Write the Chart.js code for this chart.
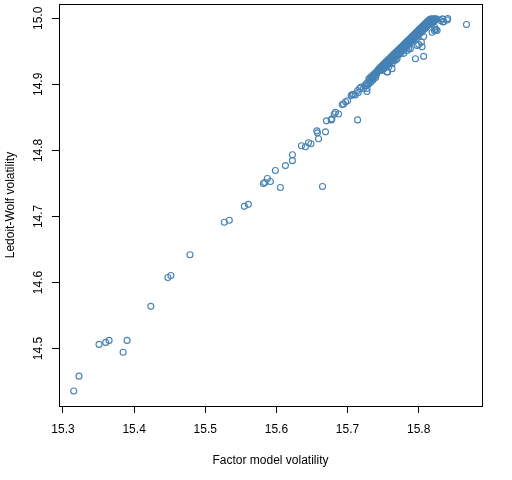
<!DOCTYPE html>
<html>
<head>
<meta charset="utf-8">
<script src="https://cdn.jsdelivr.net/npm/chart.js@4"></script>
<style>
  html, body { margin: 0; padding: 0; background: #fff; }
  #wrap { width: 512px; height: 480px; }
</style>
</head>
<body>
<div id="wrap"><canvas id="scatter"></canvas></div>
<script>
// tick labels
var xTicks = [15.3, 15.4, 15.5, 15.6, 15.7, 15.8];
var yTicks = [14.5, 14.6, 14.7, 14.8, 14.9, 15.0];

// scattered points (factor model vol, Ledoit-Wolf vol)
var factorVol = [
  15.3151, 15.3225, 15.3507, 15.3601, 15.3648, 15.3845, 15.3901, 15.4235, 15.4475, 15.4517,
  15.4785, 15.5268, 15.5338, 15.5549, 15.5606, 15.5817, 15.5837, 15.5873, 15.5915, 15.6056,
  15.5986, 15.6127, 15.6225, 15.6225, 15.6352, 15.6408, 15.6451, 15.6485, 15.6648, 15.6569,
  15.6577, 15.6592, 15.6690, 15.6704, 15.6770, 15.6780, 15.6813, 15.6831, 15.6873, 15.7141,
  15.6925, 15.6944, 15.6972, 15.7000, 15.7052, 15.7066, 15.7085, 15.7108, 15.7141, 15.7169,
  15.7189, 15.7151, 15.7273, 15.7273, 15.7263, 15.7287, 15.7225,
  15.7461, 15.7507, 15.7577, 15.7625, 15.7625, 15.7672, 15.7742, 15.7789, 15.7837, 15.7859,
  15.7883, 15.7954, 15.7977, 15.8000, 15.8038, 15.8048, 15.8070, 15.8070, 15.8189, 15.8221,
  15.8235, 15.8259, 15.8330, 15.8344, 15.8408, 15.8400, 15.8672, 15.7531, 15.7563,
  15.7696, 15.7648, 15.7475, 15.7555, 15.7672,
  15.8225, 15.8245, 15.8306, 15.8338, 15.8352
];
var lwVol = [
  14.4356, 14.4582, 14.5063, 14.5093, 14.5123, 14.4943, 14.5123, 14.5639, 14.6075, 14.6105,
  14.6421, 14.6913, 14.6943, 14.7153, 14.7183, 14.7499, 14.7514, 14.7574, 14.7529, 14.7439,
  14.7695, 14.7770, 14.7845, 14.7935, 14.8071, 14.8056, 14.8116, 14.8101, 14.7454, 14.8296,
  14.8266, 14.8176, 14.8281, 14.8447, 14.8462, 14.8477, 14.8552, 14.8576, 14.8552, 14.8462,
  14.8696, 14.8702, 14.8737, 14.8752, 14.8832, 14.8847, 14.8847, 14.8838, 14.8907, 14.8937,
  14.8958, 14.8877, 14.8892, 14.8937, 14.8977, 14.9003, 14.8937,
  14.9214, 14.9238, 14.9263, 14.9313, 14.9238, 14.9364, 14.9463, 14.9469, 14.9514, 14.9544,
  14.9538, 14.9388, 14.9589, 14.9605, 14.9639, 14.9568, 14.9424, 14.9725, 14.9789, 14.9815,
  14.9830, 14.9815, 14.9989, 14.9944, 14.9995, 14.9974, 14.9905, 14.9313, 14.9188,
  14.9388, 14.9364, 14.9248, 14.9188, 14.9439,
  14.9865, 14.9830, 14.9965, 14.9989, 14.9950
];

// the dense band near 15.0, read as rows of points
var bandFactorVol = [
  15.7440, 15.7455, 15.7470, 15.7486, 15.7500, 15.7514, 15.7530, 15.7545, 15.7560, 15.7574,
  15.7590, 15.7604, 15.7620, 15.7635, 15.7650, 15.7664, 15.7680, 15.7695, 15.7710, 15.7724,
  15.7740, 15.7755, 15.7770, 15.7784, 15.7800, 15.7815, 15.7830, 15.7844, 15.7860, 15.7875,
  15.7890, 15.7904, 15.7920, 15.7935, 15.7950, 15.7964, 15.7980, 15.7995, 15.8010, 15.8024,
  15.8040, 15.8055, 15.8070, 15.8084, 15.8100, 15.8115, 15.8130, 15.8144, 15.8160, 15.8172,
  15.7448, 15.7463, 15.7478, 15.7493, 15.7507, 15.7522, 15.7538, 15.7553, 15.7567, 15.7582,
  15.7597, 15.7612, 15.7628, 15.7643, 15.7657, 15.7672, 15.7688, 15.7703, 15.7717, 15.7732,
  15.7748, 15.7763, 15.7777, 15.7792, 15.7808, 15.7823, 15.7837, 15.7852, 15.7868, 15.7883,
  15.7897, 15.7912, 15.7928, 15.7943, 15.7957, 15.7972, 15.7988, 15.8003, 15.8017, 15.8032,
  15.8048, 15.8063, 15.8077, 15.8092, 15.8108, 15.8122, 15.8137, 15.8152,
  15.7300, 15.7315, 15.7330, 15.7345, 15.7360, 15.7375, 15.7390, 15.7405, 15.7420, 15.7430,
  15.7462, 15.7490, 15.7518, 15.7547, 15.7575, 15.7603, 15.7632, 15.7660, 15.7688, 15.7717,
  15.7745, 15.7773, 15.7802, 15.7830, 15.7858, 15.7887, 15.7915, 15.7943, 15.7972, 15.8000,
  15.8028, 15.8057, 15.8085, 15.8113, 15.8142, 15.8170,
  15.7480, 15.7500, 15.7520, 15.7540, 15.7560, 15.7580, 15.7620, 15.7640, 15.7680, 15.7700,
  15.7740, 15.7760, 15.7800, 15.7840, 15.7860, 15.7900, 15.7920, 15.7960, 15.8000, 15.8020,
  15.8060, 15.8080, 15.8120, 15.8140, 15.8160,
  15.7540, 15.7600, 15.7655, 15.7710, 15.7765, 15.7820, 15.7880, 15.7935, 15.7990, 15.8045,
  15.8100, 15.8150, 15.8185,
  15.8180, 15.8195, 15.8210, 15.8225, 15.8240, 15.8255, 15.8195, 15.8210, 15.8230, 15.8200,
  15.8215, 15.8190,
  15.7310, 15.7335, 15.7360, 15.7385, 15.7410, 15.7330, 15.7360, 15.7395, 15.7300, 15.7245,
  15.7270
];
var bandLwVol = [
  14.9232, 14.9246, 14.9262, 14.9280, 14.9294, 14.9307, 14.9325, 14.9340, 14.9357, 14.9371,
  14.9388, 14.9402, 14.9419, 14.9434, 14.9451, 14.9465, 14.9482, 14.9497, 14.9514, 14.9528,
  14.9545, 14.9561, 14.9577, 14.9591, 14.9608, 14.9624, 14.9640, 14.9654, 14.9671, 14.9687,
  14.9703, 14.9717, 14.9734, 14.9750, 14.9766, 14.9780, 14.9797, 14.9813, 14.9829, 14.9843,
  14.9860, 14.9876, 14.9892, 14.9906, 14.9923, 14.9939, 14.9955, 14.9969, 14.9984, 14.9990,
  14.9240, 14.9255, 14.9271, 14.9287, 14.9301, 14.9316, 14.9333, 14.9349, 14.9364, 14.9380,
  14.9395, 14.9411, 14.9428, 14.9443, 14.9458, 14.9474, 14.9491, 14.9506, 14.9521, 14.9537,
  14.9553, 14.9569, 14.9584, 14.9600, 14.9617, 14.9632, 14.9647, 14.9663, 14.9680, 14.9695,
  14.9710, 14.9726, 14.9743, 14.9758, 14.9773, 14.9789, 14.9806, 14.9821, 14.9836, 14.9852,
  14.9869, 14.9884, 14.9899, 14.9915, 14.9932, 14.9946, 14.9962, 14.9977,
  14.9080, 14.9094, 14.9110, 14.9126, 14.9141, 14.9156, 14.9172, 14.9188, 14.9204, 14.9214,
  14.9222, 14.9250, 14.9278, 14.9309, 14.9337, 14.9366, 14.9396, 14.9425, 14.9454, 14.9485,
  14.9514, 14.9543, 14.9574, 14.9603, 14.9632, 14.9663, 14.9692, 14.9721, 14.9752, 14.9781,
  14.9810, 14.9841, 14.9870, 14.9899, 14.9930, 14.9958,
  14.9211, 14.9233, 14.9254, 14.9275, 14.9296, 14.9317, 14.9359, 14.9380, 14.9422, 14.9443,
  14.9485, 14.9506, 14.9548, 14.9590, 14.9611, 14.9653, 14.9674, 14.9716, 14.9758, 14.9779,
  14.9821, 14.9842, 14.9884, 14.9905, 14.9926,
  14.9263, 14.9327, 14.9385, 14.9442, 14.9500, 14.9558, 14.9621, 14.9679, 14.9737, 14.9794,
  14.9852, 14.9905, 14.9942,
  14.9988, 14.9990, 14.9989, 14.9991, 14.9990, 14.9989, 14.9965, 14.9975, 14.9980, 14.9940,
  14.9955, 14.9925,
  14.9050, 14.9075, 14.9100, 14.9128, 14.9160, 14.9035, 14.9070, 14.9105, 14.9010, 14.8985,
  14.9020
];

var points = [];
for (var i = 0; i < factorVol.length; i++) points.push({x: factorVol[i], y: lwVol[i]});
for (var j = 0; j < bandFactorVol.length; j++) points.push({x: bandFactorVol[j], y: bandLwVol[j]});

var boxPlugin = {
  id: 'box',
  afterDraw: function(chart) {
    var a = chart.chartArea, c = chart.ctx;
    c.save();
    c.strokeStyle = '#000';
    c.lineWidth = 1;
    c.strokeRect(Math.round(a.left) + 0.5, Math.round(a.top) + 0.5,
                 Math.round(a.right - a.left), Math.round(a.bottom - a.top));
    c.restore();
  }
};

var ctx = document.getElementById('scatter').getContext('2d');
var myChart = new Chart(ctx, {
  type: 'scatter',
  data: {
    datasets: [{
      data: points,
      borderColor: '#4682B4',
      backgroundColor: 'rgba(0,0,0,0)',
      borderWidth: 1.1,
      pointRadius: 3,
      pointHoverRadius: 3
    }]
  },
  options: {
    responsive: true,
    maintainAspectRatio: false,
    animation: false,
    events: [],
    layout: { padding: { left: 0, right: 30, top: 2, bottom: 0 } },
    plugins: { legend: { display: false }, tooltip: { enabled: false } },
    scales: {
      x: {
        type: 'linear',
        min: 15.2944,
        max: 15.889,
        afterBuildTicks: function(s) { s.ticks = xTicks.map(function(v) { return {value: v}; }); },
        afterFit: function(s) { s.height = 74; s.paddingLeft = 0; s.paddingRight = 0; },
        border: { display: false },
        grid: { drawOnChartArea: false, drawTicks: true, tickLength: 7, color: '#000' },
        ticks: {
          color: '#000',
          font: { family: 'Liberation Sans', size: 12 },
          padding: 9,
          maxRotation: 0,
          callback: function(v) { return v.toFixed(1); }
        },
        title: {
          display: true,
          text: 'Factor model volatility',
          color: '#000',
          font: { family: 'Liberation Sans', size: 12 },
          padding: { top: 0, bottom: 12 }
        }
      },
      y: {
        type: 'linear',
        min: 14.413,
        max: 15.0215,
        afterBuildTicks: function(s) { s.ticks = yTicks.map(function(v) { return {value: v}; }); },
        afterFit: function(s) { s.width = 59; s.paddingTop = 0; s.paddingBottom = 0; },
        border: { display: false },
        grid: { drawOnChartArea: false, drawTicks: true, tickLength: 7, color: '#000' },
        ticks: {
          color: '#000',
          font: { family: 'Liberation Sans', size: 12 },
          padding: 2,
          crossAlign: 'center',
          minRotation: 90,
          maxRotation: 90,
          callback: function(v) { return v.toFixed(1); }
        },
        title: {
          display: true,
          text: 'Ledoit-Wolf volatility',
          color: '#000',
          font: { family: 'Liberation Sans', size: 12 },
          padding: { top: 3, bottom: 0 }
        }
      }
    }
  },
  plugins: [boxPlugin]
});
</script>
</body>
</html>
